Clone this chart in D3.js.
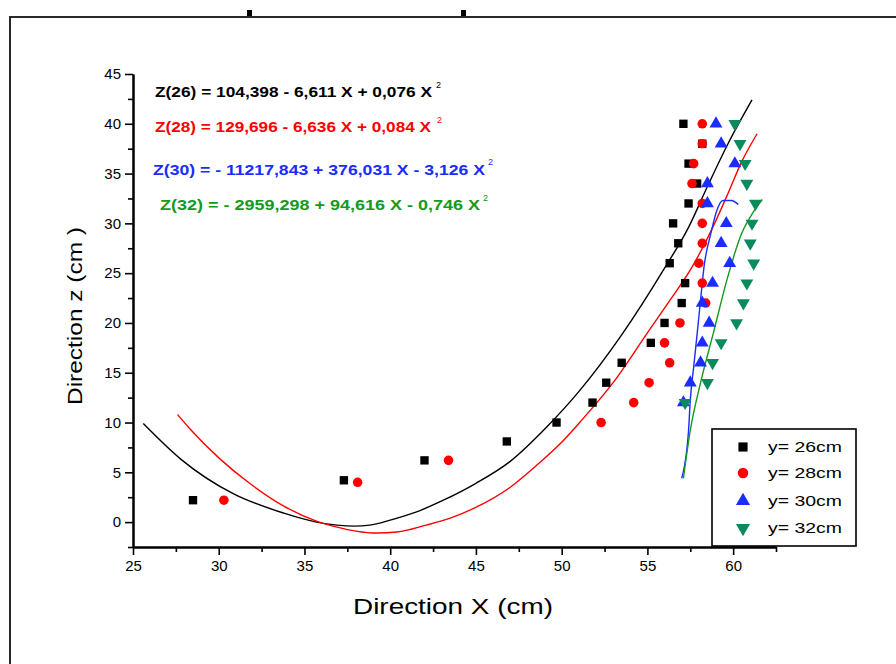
<!DOCTYPE html>
<html>
<head>
<meta charset="utf-8">
<script src="https://cdn.jsdelivr.net/npm/d3@7"></script>
<style>
    body { margin: 0; background: #fff; }
    svg { display: block; font-family: "Liberation Sans", Arial, sans-serif; }
</style>
</head>
<body>
<svg id="chart" width="896" height="664"></svg>
<script>

/*
 Data
 */

var Z_26 = [2.2, 4.2, 6.2, 8.1, 10, 12, 14, 16, 18, 20, 22, 24, 26, 28, 30, 32, 34, 36, 38, 40];
var X_26 = [28.5, 37.3, 42.0, 46.8, 49.7, 51.8, 52.6, 53.5, 55.2, 56.0, 57.0, 57.2, 56.3, 56.8, 56.5, 57.4, 57.9, 57.4, 58.2, 57.1];

var Z_28 = [2.2, 4.0, 6.2, 10, 12, 14, 16, 18, 20, 22, 24, 26, 28, 30, 32, 34, 36, 38, 40];
var X_28 = [30.3, 38.1, 43.4, 52.3, 54.2, 55.1, 56.3, 56.0, 56.9, 58.4, 58.2, 58.0, 58.2, 58.2, 58.2, 57.6, 57.7, 58.2, 58.2];

var Z_30 = [12, 14, 16, 18, 20, 22, 24, 26, 28, 30, 32, 34, 36, 38, 40];
var X_30 = [57.1, 57.5, 58.1, 58.2, 58.6, 58.2, 58.8, 59.8, 59.3, 59.6, 58.5, 58.5, 60.1, 59.3, 59.0];

var Z_32 = [12, 14, 16, 18, 20, 22, 24, 26, 28, 30, 32, 34, 36, 38, 40];
var X_32 = [57.2, 58.5, 58.8, 59.3, 60.2, 60.6, 60.8, 61.2, 61.0, 61.1, 61.3, 60.8, 60.7, 60.4, 60.1];

// fitted curves, points
var FIT_26_X = [25.6, 27.8, 30.9, 33.8, 35.7, 36.9, 37.9, 38.8, 40.0, 41.5, 43.1, 45.0, 47.0, 49.1, 51.0, 53.5, 56.0, 57.4, 58.5, 59.7, 61.1];
var FIT_26_Z = [9.9, 6.3, 2.8, 0.9, 0.0, -0.3, -0.4, -0.3, 0.2, 1.0, 2.2, 3.9, 6.1, 9.5, 13.1, 18.8, 25.5, 29.6, 33.7, 38.0, 42.4];

var FIT_28_X = [27.6, 28.3, 30.1, 31.8, 33.8, 35.7, 36.9, 38.0, 39.2, 40.4, 42.1, 43.5, 44.9, 47.0, 48.6, 50.1, 51.1, 53.0, 55.0, 56.2, 57.6, 58.7, 59.7, 60.5, 61.4];
var FIT_28_Z = [10.8, 9.4, 6.3, 3.9, 1.6, 0.1, -0.5, -0.9, -1.1, -1.0, -0.3, 0.4, 1.4, 3.5, 5.8, 8.2, 10.1, 14.0, 19.0, 22.0, 25.6, 29.2, 33.0, 36.2, 39.0];

var FIT_30_X = [57.0, 57.4, 57.5, 57.7, 57.9, 58.1, 58.3, 58.7, 59.05, 59.4, 59.9, 60.3];
var FIT_30_Z = [4.4, 9.2, 12.2, 15.6, 18.9, 22.3, 25.6, 29.0, 31.3, 32.3, 32.3, 31.9];

var FIT_32_X = [57.1, 57.5, 58.1, 58.85, 59.65, 60.5, 61.2, 61.7];
var FIT_32_Z = [4.4, 9.2, 14.0, 19.0, 24.4, 29.0, 31.2, 32.4];

var X_TICKS = [25, 30, 35, 40, 45, 50, 55, 60];
var X_MINOR = [27.5, 32.5, 37.5, 42.5, 47.5, 52.5, 57.5, 62.5];
var Y_TICKS = [0, 5, 10, 15, 20, 25, 30, 35, 40, 45];
var Y_MINOR = [-2.5, 2.5, 7.5, 12.5, 17.5, 22.5, 27.5, 32.5, 37.5, 42.5];

var LEGEND_LABELS = ['y= 26cm', 'y= 28cm', 'y= 30cm', 'y= 32cm'];
var EQUATIONS = [
    'Z(26) =  104,398 - 6,611 X + 0,076 X',
    'Z(28) = 129,696 - 6,636  X + 0,084 X',
    'Z(30) = - 11217,843 + 376,031 X - 3,126  X',
    'Z(32)  = - 2959,298 + 94,616 X - 0,746  X'
];

/*
 Layout constants
 */

var COL_BLACK = '#000000';
var COL_RED = '#ff0000';
var COL_BLUE = '#1a2cff';
var COL_GREEN_LINE = '#149a1e';
var COL_GREEN_MARK = '#0b8a5c';

var svg = d3.select('#chart');

var x = d3.scaleLinear().domain([25, 62.5]).range([133, 776]);
var y = d3.scaleLinear().domain([-2.5, 45]).range([547, 74]);

function zip(xs, zs) {
    return xs.map(function (v, i) {
        return {x: v, z: zs[i]};
    });
}

/*
 Frame
 */

svg.append('rect')
    .attr('x', 10)
    .attr('y', 17)
    .attr('width', 920)
    .attr('height', 700)
    .attr('fill', 'none')
    .attr('stroke', '#2a2a2a')
    .attr('stroke-width', 2);

svg.selectAll('.topMark')
    .data([247, 461])
    .enter().append('rect')
    .classed('topMark', true)
    .attr('x', function (d) { return d; })
    .attr('y', 10)
    .attr('width', 5)
    .attr('height', 6)
    .attr('fill', '#000');

/*
 Axes
 */

function styleAxis(g) {
    g.select('.domain').attr('stroke', '#000').attr('stroke-width', 2);
    g.selectAll('.tick line').attr('stroke', '#000').attr('stroke-width', 1.6);
    g.selectAll('.tick text')
        .attr('fill', '#000')
        .style('font-size', '15px')
        .style('font-family', '"Liberation Sans", Arial, sans-serif');
}

svg.append('g')
    .attr('transform', 'translate(0,' + y(-2.5) + ')')
    .call(d3.axisBottom(x).tickValues(X_TICKS).tickSize(8).tickSizeOuter(0).tickPadding(5).tickFormat(d3.format('d')))
    .call(styleAxis);

svg.append('g')
    .attr('transform', 'translate(0,' + y(-2.5) + ')')
    .call(d3.axisBottom(x).tickValues(X_MINOR).tickSize(5).tickSizeOuter(0).tickFormat(''))
    .call(styleAxis);

svg.append('g')
    .attr('transform', 'translate(' + x(25) + ',0)')
    .call(d3.axisLeft(y).tickValues(Y_TICKS).tickSize(8).tickSizeOuter(0).tickPadding(4).tickFormat(d3.format('d')))
    .call(styleAxis);

svg.append('g')
    .attr('transform', 'translate(' + x(25) + ',0)')
    .call(d3.axisLeft(y).tickValues(Y_MINOR).tickSize(5).tickSizeOuter(0).tickFormat(''))
    .call(styleAxis);

svg.append('text')
    .attr('x', 453)
    .attr('y', 614)
    .attr('text-anchor', 'middle')
    .attr('textLength', 200)
    .attr('lengthAdjust', 'spacingAndGlyphs')
    .style('font-size', '22px')
    .text('Direction X (cm)');

svg.append('text')
    .attr('transform', 'translate(82,316) rotate(-90)')
    .attr('text-anchor', 'middle')
    .attr('textLength', 178)
    .attr('lengthAdjust', 'spacingAndGlyphs')
    .style('font-size', '20px')
    .text('Direction z (cm )');

/*
 Fit lines
 */

var line = d3.line()
    .x(function (d) { return x(d.x); })
    .y(function (d) { return y(d.z); })
    .curve(d3.curveMonotoneX);

var fits = [
    {id: 'f26', pts: zip(FIT_26_X, FIT_26_Z), color: COL_BLACK},
    {id: 'f28', pts: zip(FIT_28_X, FIT_28_Z), color: COL_RED},
    {id: 'f30', pts: zip(FIT_30_X, FIT_30_Z), color: COL_BLUE},
    {id: 'f32', pts: zip(FIT_32_X, FIT_32_Z), color: COL_GREEN_LINE}
];

svg.selectAll('.fit')
    .data(fits, function (d) { return d.id; })
    .enter().append('path')
    .classed('fit', true)
    .attr('d', function (d) { return line(d.pts); })
    .attr('fill', 'none')
    .attr('stroke', function (d) { return d.color; })
    .attr('stroke-width', 1.4);

/*
 Points
 */

var series = [
    {id: 's26', pts: zip(X_26, Z_26), color: COL_BLACK, type: d3.symbolSquare, size: 70, rot: 0},
    {id: 's28', pts: zip(X_28, Z_28), color: COL_RED, type: d3.symbolCircle, size: 72, rot: 0},
    {id: 's30', pts: zip(X_30, Z_30), color: COL_BLUE, type: d3.symbolTriangle, size: 72, rot: 0},
    {id: 's32', pts: zip(X_32, Z_32), color: COL_GREEN_MARK, type: d3.symbolTriangle, size: 72, rot: 180}
];

svg.selectAll('.series')
    .data(series, function (d) { return d.id; })
    .enter().append('g')
    .classed('series', true)
    .each(function (s) {
        d3.select(this).selectAll('path')
            .data(s.pts)
            .enter().append('path')
            .attr('d', d3.symbol().type(s.type).size(s.size))
            .attr('transform', function (d) {
                return 'translate(' + x(d.x) + ',' + y(d.z) + ') rotate(' + s.rot + ')';
            })
            .attr('fill', s.color);
    });

/*
 Equations
 */

var eqPos = [
    {x: 155, y: 97, len: 277, sx: 436, sy: 88, color: COL_BLACK},
    {x: 155, y: 132, len: 276, sx: 437, sy: 123, color: COL_RED},
    {x: 153, y: 175, len: 332, sx: 488, sy: 165, color: COL_BLUE},
    {x: 160, y: 210, len: 320, sx: 483, sy: 201, color: COL_GREEN_LINE}
];

var eq = svg.selectAll('.eq')
    .data(EQUATIONS)
    .enter().append('g')
    .classed('eq', true);

eq.append('text')
    .attr('x', function (d, i) { return eqPos[i].x; })
    .attr('y', function (d, i) { return eqPos[i].y; })
    .attr('textLength', function (d, i) { return eqPos[i].len; })
    .attr('lengthAdjust', 'spacingAndGlyphs')
    .attr('fill', function (d, i) { return eqPos[i].color; })
    .style('font-size', '14px')
    .style('font-weight', 'bold')
    .text(function (d) { return d; });

eq.append('text')
    .attr('x', function (d, i) { return eqPos[i].sx; })
    .attr('y', function (d, i) { return eqPos[i].sy; })
    .attr('fill', function (d, i) { return eqPos[i].color; })
    .style('font-size', '9px')
    .text('2');

/*
 Legend
 */

var legend = svg.append('g').attr('transform', 'translate(712,429)');

legend.append('rect')
    .attr('width', 144)
    .attr('height', 117)
    .attr('fill', '#fff')
    .attr('stroke', '#000')
    .attr('stroke-width', 1.6);

var item = legend.selectAll('.item')
    .data(series)
    .enter().append('g')
    .classed('item', true)
    .attr('transform', function (d, i) {
        return 'translate(0,' + [18, 44, 72, 99][i] + ')';
    });

item.append('path')
    .attr('d', function (d) { return d3.symbol().type(d.type).size(d.size * 1.2)(); })
    .attr('transform', function (d) { return 'translate(31,0) rotate(' + d.rot + ')'; })
    .attr('fill', function (d) { return d.color; });

item.append('text')
    .attr('x', 56)
    .attr('y', 5)
    .attr('textLength', 74)
    .attr('lengthAdjust', 'spacingAndGlyphs')
    .style('font-size', '15px')
    .text(function (d, i) { return LEGEND_LABELS[i]; });

</script>
</body>
</html>
